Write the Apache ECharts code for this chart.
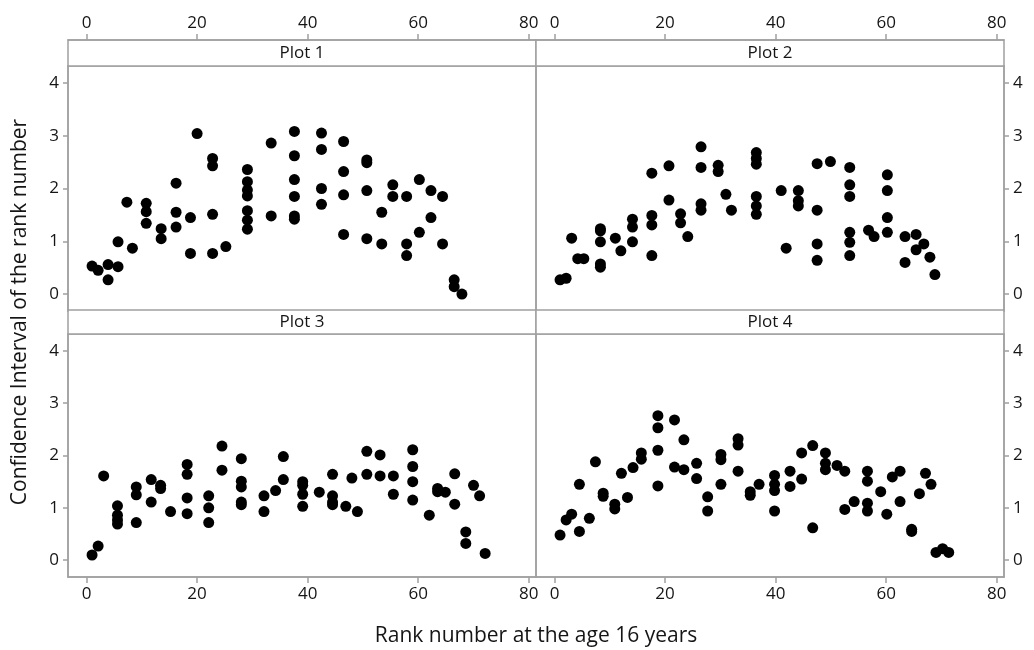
<!DOCTYPE html>
<html style="height: 100%">
  <head>
    <meta charset="utf-8" />
  </head>
  <body style="height: 100%; margin: 0; background: #fff">
    <div id="container" style="width: 1034px; height: 650px"></div>
    <script type="text/javascript" src="https://cdn.jsdelivr.net/npm/echarts@6/dist/echarts.min.js"></script>
    <script type="text/javascript">
      // [rank at age 16, confidence interval]
      var plot1 = [
        [1.0, 0.53], [2.1, 0.45], [3.9, 0.56], [3.9, 0.27], [5.7, 0.52], [5.7, 0.99],
        [7.3, 1.74], [8.3, 0.87], [10.8, 1.72], [10.8, 1.56], [10.8, 1.34], [13.5, 1.24],
        [13.5, 1.05], [16.2, 2.1], [16.2, 1.55], [16.2, 1.27], [18.8, 1.45], [18.8, 0.77],
        [20.0, 3.04], [22.8, 2.57], [22.8, 2.43], [22.8, 1.51], [22.8, 0.77], [25.2, 0.9],
        [29.1, 2.36], [29.1, 2.13], [29.1, 1.97], [29.1, 1.86], [29.1, 1.58], [29.1, 1.4],
        [29.1, 1.23], [33.4, 2.86], [33.4, 1.48], [37.6, 3.08], [37.6, 2.62], [37.6, 2.17],
        [37.6, 1.85], [37.6, 1.48], [37.6, 1.42], [42.5, 3.05], [42.5, 2.74], [42.5, 2.0],
        [42.5, 1.7], [46.5, 2.89], [46.5, 2.32], [46.5, 1.88], [46.5, 1.13], [50.7, 2.54],
        [50.7, 2.49], [50.7, 1.96], [50.7, 1.05], [53.4, 1.55], [53.4, 0.95], [55.4, 2.07],
        [55.4, 1.85], [57.9, 1.85], [57.9, 0.95], [57.9, 0.73], [60.2, 2.17], [60.2, 1.17],
        [62.3, 1.96], [62.3, 1.45], [64.4, 1.85], [64.4, 0.95], [66.5, 0.27], [66.5, 0.14],
        [67.9, 0.0]
      ];
      var plot2 = [
        [1.0, 0.27], [2.1, 0.3], [3.1, 1.06], [4.2, 0.67], [5.3, 0.67], [8.3, 1.24],
        [8.3, 1.2], [8.3, 0.99], [8.3, 0.57], [8.3, 0.51], [11.0, 1.06], [12.0, 0.82],
        [14.1, 1.42], [14.1, 1.27], [14.1, 0.99], [17.6, 2.29], [17.6, 1.49], [17.6, 1.31],
        [17.6, 0.73], [20.7, 2.43], [20.7, 1.78], [22.8, 1.52], [22.8, 1.35], [24.1, 1.09],
        [26.5, 2.79], [26.5, 2.4], [26.5, 1.71], [26.5, 1.59], [29.6, 2.44], [29.6, 2.32],
        [31.0, 1.89], [32.0, 1.59], [36.5, 2.68], [36.5, 2.57], [36.5, 2.46], [36.5, 1.85],
        [36.5, 1.67], [36.5, 1.51], [41.0, 1.96], [41.9, 0.87], [44.1, 1.96], [44.1, 1.77],
        [44.1, 1.67], [47.5, 2.47], [47.5, 1.59], [47.5, 0.95], [47.5, 0.64], [49.9, 2.51],
        [53.4, 2.4], [53.4, 2.07], [53.4, 1.85], [53.4, 1.17], [53.4, 0.98], [53.4, 0.73],
        [56.8, 1.21], [57.8, 1.09], [60.2, 2.26], [60.2, 1.96], [60.2, 1.45], [60.2, 1.17],
        [63.4, 1.09], [63.4, 0.6], [65.4, 1.13], [65.4, 0.84], [66.8, 0.95], [67.9, 0.7],
        [68.8, 0.37]
      ];
      var plot3 = [
        [1.0, 0.1], [2.1, 0.27], [3.1, 1.61], [5.6, 1.04], [5.6, 0.86], [5.6, 0.77],
        [5.6, 0.69], [9.0, 1.4], [9.0, 1.25], [9.0, 0.72], [11.7, 1.54], [11.7, 1.11],
        [13.4, 1.43], [13.4, 1.37], [15.2, 0.93], [18.2, 1.83], [18.2, 1.64], [18.2, 1.19],
        [18.2, 0.89], [22.1, 1.23], [22.1, 1.0], [22.1, 0.72], [24.5, 2.18], [24.5, 1.72],
        [28.0, 1.94], [28.0, 1.51], [28.0, 1.4], [28.0, 1.11], [28.0, 1.06], [32.1, 1.23],
        [32.1, 0.93], [34.2, 1.33], [35.6, 1.98], [35.6, 1.54], [39.1, 1.5], [39.1, 1.43],
        [39.1, 1.26], [39.1, 1.03], [42.1, 1.3], [44.5, 1.64], [44.5, 1.23], [44.5, 1.11],
        [44.5, 1.06], [46.9, 1.03], [48.0, 1.57], [49.0, 0.93], [50.7, 2.08], [50.7, 1.64],
        [53.1, 2.01], [53.1, 1.61], [55.5, 1.61], [55.5, 1.26], [59.0, 2.11], [59.0, 1.79],
        [59.0, 1.5], [59.0, 1.15], [62.0, 0.86], [63.5, 1.37], [63.5, 1.31], [64.9, 1.3],
        [66.6, 1.65], [66.6, 1.07], [68.6, 0.54], [68.6, 0.32], [70.0, 1.43], [71.1, 1.23],
        [72.1, 0.13]
      ];
      var plot4 = [
        [1.0, 0.48], [2.1, 0.77], [3.1, 0.88], [4.5, 1.45], [4.5, 0.55], [6.3, 0.8],
        [7.4, 1.88], [8.8, 1.28], [8.8, 1.22], [10.9, 1.07], [10.9, 0.98], [12.1, 1.66],
        [13.2, 1.2], [14.2, 1.77], [15.7, 2.05], [15.7, 1.93], [18.7, 2.76], [18.7, 2.53],
        [18.7, 2.1], [18.7, 1.42], [21.7, 2.68], [21.7, 1.78], [23.4, 2.3], [23.4, 1.73],
        [25.7, 1.85], [25.7, 1.56], [27.7, 1.21], [27.7, 0.94], [30.1, 2.02], [30.1, 1.92],
        [30.1, 1.45], [33.2, 2.32], [33.2, 2.2], [33.2, 1.7], [35.4, 1.31], [35.4, 1.24],
        [37.0, 1.45], [39.8, 1.62], [39.8, 1.45], [39.8, 1.33], [39.8, 0.94], [42.6, 1.7],
        [42.6, 1.41], [44.7, 2.05], [44.7, 1.55], [46.7, 2.19], [46.7, 0.62], [49.0, 2.05],
        [49.0, 1.85], [49.0, 1.73], [51.1, 1.81], [52.5, 1.7], [52.5, 0.97], [54.2, 1.12],
        [56.6, 1.7], [56.6, 1.51], [56.6, 1.09], [56.6, 0.94], [59.0, 1.31], [60.1, 0.88],
        [61.1, 1.59], [62.5, 1.7], [62.5, 1.12], [64.6, 0.59], [64.6, 0.55], [66.0, 1.27],
        [67.1, 1.66], [68.1, 1.45], [69.0, 0.15], [70.2, 0.22], [71.3, 0.15]
      ];
      var plotNames = ['Plot 1', 'Plot 2', 'Plot 3', 'Plot 4'];
      var xTicks = [0, 20, 40, 60, 80];
      var yTicks = [0, 1, 2, 3, 4];

      var dom = document.getElementById('container');
      var myChart = echarts.init(dom, null, { renderer: 'canvas' });

      var font = 'Open Sans';
      var gray = '#a0a0a0';
      var ink = '#151515';
      var allData = [plot1, plot2, plot3, plot4];

      // panel layout: [left, top, width, height]
      var panels = [
        [68, 66, 468, 245],
        [536, 66, 468, 245],
        [68, 334, 468, 243],
        [536, 334, 468, 243]
      ];
      var stripH = [26, 26, 24, 24];

      var grids = [], xAxes = [], yAxes = [], series = [], graphics = [];
      panels.forEach(function (p, i) {
        var top = i < 2;
        var left = i % 2 === 0;
        grids.push({
          left: p[0], top: p[1], width: p[2], height: p[3],
          show: true, borderColor: gray, borderWidth: 1.5
        });
        xAxes.push({
          type: 'value', gridIndex: i, min: -3.35, max: 81.3,
          position: top ? 'top' : 'bottom',
          offset: top ? stripH[i] : 0,
          splitLine: { show: false },
          axisLine: { show: true, onZero: false, lineStyle: { color: gray, width: 1.5 } },
          axisTick: { show: true, customValues: xTicks, length: 6, lineStyle: { color: gray, width: 1.5 } },
          axisLabel: { customValues: xTicks, color: ink, fontSize: 17, fontFamily: font, margin: top ? 8 : 9 }
        });
        yAxes.push({
          type: 'value', gridIndex: i, min: -0.32, max: 4.32,
          position: left ? 'left' : 'right',
          splitLine: { show: false },
          axisLine: { show: true, onZero: false, lineStyle: { color: gray, width: 1.5 } },
          axisTick: { show: true, customValues: yTicks, length: 5, lineStyle: { color: gray, width: 1.5 } },
          axisLabel: { customValues: yTicks, color: ink, fontSize: 17, fontFamily: font, margin: 9 }
        });
        series.push({
          type: 'scatter', xAxisIndex: i, yAxisIndex: i,
          data: allData[i], symbol: 'circle', symbolSize: 11,
          itemStyle: { color: '#000', opacity: 1 }, silent: true
        });
        // strip header box
        graphics.push({
          type: 'rect',
          shape: { x: p[0], y: p[1] - stripH[i], width: p[2], height: stripH[i] },
          style: { fill: '#fff', stroke: gray, lineWidth: 1.5 }
        });
        graphics.push({
          type: 'text',
          x: p[0] + p[2] / 2, y: p[1] - stripH[i] / 2,
          style: {
            text: plotNames[i], fill: ink, font: '17px ' + font,
            textAlign: 'center', textVerticalAlign: 'middle'
          }
        });
      });

      graphics.push({
        type: 'text', x: 536, y: 636,
        style: {
          text: 'Rank number at the age 16 years', fill: ink, font: '21px ' + font,
          textAlign: 'center', textVerticalAlign: 'middle'
        }
      });
      graphics.push({
        type: 'text', x: 20, y: 312, rotation: Math.PI / 2,
        style: {
          text: 'Confidence Interval of the rank number', fill: ink, font: '21px ' + font,
          textAlign: 'center', textVerticalAlign: 'middle'
        }
      });

      var option = {
        backgroundColor: '#fff',
        animation: false,
        grid: grids,
        xAxis: xAxes,
        yAxis: yAxes,
        series: series,
        graphic: graphics
      };
      myChart.setOption(option);
    </script>
  </body>
</html>
